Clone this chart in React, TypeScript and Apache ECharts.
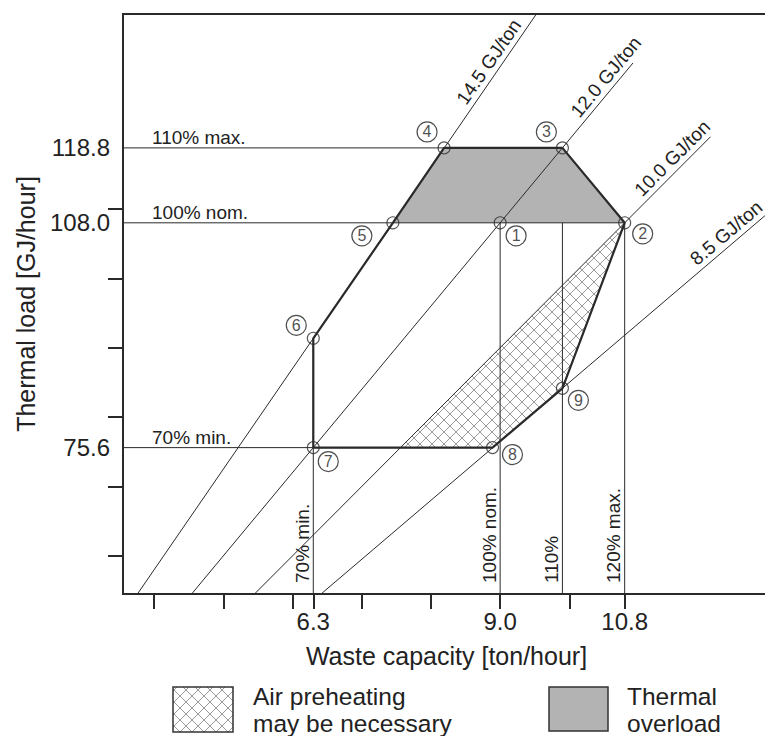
import React, { useEffect, useRef } from 'react';
import * as echarts from 'echarts';

const FONT = '"Liberation Sans", Arial, Helvetica, sans-serif';
const INK = '#222';
const LINE = '#2a2a2a';

// ---------- axis ranges & ticks ----------
const X_MIN = 3.55;
const X_MAX = 12.9;
const Y_MIN = 54.5;
const Y_MAX = 138.1;

const xTickValues = [4, 5, 6, 6.3, 7, 8, 9, 10, 10.8];
const xLabelValues = [6.3, 9.0, 10.8];
const yTickValues = [60, 70, 80, 90, 100, 110];
const yLabelValues = [75.6, 108.0, 118.8];

// ---------- operating points 1..9 ----------
const pointNames = ['1', '2', '3', '4', '5', '6', '7', '8', '9'];
const pointX = [9.0, 10.8, 9.9, 8.19, 7.45, 6.3, 6.3, 8.89, 9.9];
const pointY = [108.0, 108.0, 118.8, 118.8, 108.0, 91.35, 75.6, 75.6, 84.15];

// ---------- lower heating values (lines through origin) ----------
const lhvValues = [14.5, 12.0, 10.0, 8.5];
const lhvNames = ['14.5 GJ/ton', '12.0 GJ/ton', '10.0 GJ/ton', '8.5 GJ/ton'];
const lhvEndX = [9.8, 10.92, 12.04, 13.2];
const lhvLabelX = [8.98, 10.66, 11.61, 12.38];

// ---------- thermal load levels ----------
const loadLevels = [118.8, 108.0, 75.6];
const loadNames = ['110% max.', '100% nom.', '70% min.'];
const loadEndPoint = [3, 2, 8];

// ---------- waste capacity levels ----------
const capacityLevels = [6.3, 9.0, 9.9, 10.8];
const capacityNames = ['70% min.', '100% nom.', '110%', '120% max.'];
const capacityTopY = [91.35, 108.0, 108.0, 108.0];

// ---------- regions ----------
const boundaryPath = [7, 6, 5, 4, 3, 2, 9, 8, 7];
const overloadPath = [5, 4, 3, 2];
const hatchX = [7.56, 10.8, 9.9, 8.89];
const hatchY = [75.6, 108.0, 84.15, 75.6];

const legendLines = [
  ['Air preheating', 'may be necessary'],
  ['Thermal', 'overload'],
];

// ---------- layout ----------
const GRID = { left: 123, top: 14, width: 647, height: 580 };
const markerLabelOffsets = [
  [16, 13], [18, 11], [-16, -16], [-17, -16], [-31, 13], [-17, -13], [15, 14], [20, 7], [16, 12],
];
const HATCH_STEP = 12;
const HATCH_COLOR = '#808080';
const OVERLOAD_FILL = '#b3b3b3';

type P = number[];

function clipLine(p0: P, d: P, poly: P[]): P[] | null {
  const ts: number[] = [];
  for (let i = 0; i < poly.length; i++) {
    const a = poly[i];
    const b = poly[(i + 1) % poly.length];
    const e = [b[0] - a[0], b[1] - a[1]];
    const den = d[0] * e[1] - d[1] * e[0];
    if (Math.abs(den) < 1e-9) continue;
    const w = [a[0] - p0[0], a[1] - p0[1]];
    const t = (w[0] * e[1] - w[1] * e[0]) / den;
    const s = (w[0] * d[1] - w[1] * d[0]) / den;
    if (s >= -1e-9 && s <= 1 + 1e-9) ts.push(t);
  }
  if (ts.length < 2) return null;
  const t0 = Math.min(...ts);
  const t1 = Math.max(...ts);
  if (t1 - t0 < 1e-6) return null;
  return [
    [p0[0] + t0 * d[0], p0[1] + t0 * d[1]],
    [p0[0] + t1 * d[0], p0[1] + t1 * d[1]],
  ];
}

function hatchSegments(poly: P[], h: number): P[][] {
  const out: P[][] = [];
  const sums = poly.map((p) => p[0] + p[1]);
  const diffs = poly.map((p) => p[1] - p[0]);
  for (let c = Math.ceil(Math.min(...sums) / h) * h; c <= Math.max(...sums); c += h) {
    const s = clipLine([c, 0], [1, -1], poly);
    if (s) out.push(s);
  }
  for (let c = Math.ceil(Math.min(...diffs) / h) * h; c <= Math.max(...diffs); c += h) {
    const s = clipLine([0, c], [1, 1], poly);
    if (s) out.push(s);
  }
  return out;
}

function textStyle(text: string, size: number, align: string, vAlign: string) {
  return {
    text,
    fontSize: size,
    fontFamily: FONT,
    fill: INK,
    align,
    verticalAlign: vAlign,
    textAlign: align,
    textVerticalAlign: vAlign,
  };
}

function lineSeries(data: P[], width: number, z = 3) {
  return {
    type: 'line',
    data,
    symbol: 'none',
    showSymbol: false,
    silent: true,
    z,
    lineStyle: { color: LINE, width },
    animation: false,
  };
}

function buildOption() {
  const series: any[] = [];

  // thermal overload region
  series.push({
    type: 'custom',
    silent: true,
    z: 1,
    data: [[pointX[0], pointY[0]]],
    renderItem: (_p: any, api: any) => ({
      type: 'polygon',
      shape: { points: overloadPath.map((n) => api.coord([pointX[n - 1], pointY[n - 1]])) },
      style: { fill: OVERLOAD_FILL, stroke: 'none' },
    }),
  });

  // air preheating (cross-hatched) region
  series.push({
    type: 'custom',
    silent: true,
    z: 1,
    data: [[hatchX[0], hatchY[0]]],
    renderItem: (_p: any, api: any) => {
      const poly = hatchX.map((x, i) => api.coord([x, hatchY[i]]));
      return {
        type: 'group',
        children: hatchSegments(poly, HATCH_STEP).map((s) => ({
          type: 'line',
          shape: { x1: s[0][0], y1: s[0][1], x2: s[1][0], y2: s[1][1] },
          style: { stroke: HATCH_COLOR, lineWidth: 0.8 },
        })),
      };
    },
  });

  // heating value lines
  lhvValues.forEach((v, i) => {
    const x0 = (Y_MIN - 2) / v;
    series.push(lineSeries([[x0, v * x0], [lhvEndX[i], v * lhvEndX[i]]], 1));
  });

  // load level lines
  loadLevels.forEach((l, i) => {
    series.push(lineSeries([[X_MIN, l], [pointX[loadEndPoint[i] - 1], l]], 1));
  });

  // capacity level lines
  capacityLevels.forEach((c, i) => {
    series.push(lineSeries([[c, Y_MIN], [c, capacityTopY[i]]], 1));
  });

  // operating boundary
  series.push(lineSeries(boundaryPath.map((n) => [pointX[n - 1], pointY[n - 1]]), 2.2, 4));

  // operating points with circled numbers
  series.push({
    type: 'scatter',
    silent: true,
    z: 6,
    symbol: 'circle',
    symbolSize: 12,
    itemStyle: { color: 'rgba(0,0,0,0)', borderColor: LINE, borderWidth: 1.1 },
    data: pointX.map((x, i) => ({
      value: [x, pointY[i]],
      label: { offset: markerLabelOffsets[i] },
    })),
    label: {
      show: true,
      position: 'inside',
      formatter: (p: any) => '{c|' + pointNames[p.dataIndex] + '}',
      rich: {
        c: {
          width: 20,
          height: 20,
          lineHeight: 20,
          borderRadius: 10,
          borderColor: '#222',
          borderWidth: 1.2,
          align: 'center',
          verticalAlign: 'middle',
          fontSize: 16,
          fontFamily: FONT,
          color: INK,
        },
      },
    },
  });

  // heating value labels (rotated along lines)
  series.push({
    type: 'custom',
    silent: true,
    z: 7,
    data: lhvValues.map((v, i) => [lhvLabelX[i], v * lhvLabelX[i], i]),
    renderItem: (_p: any, api: any) => {
      const i = api.value(2);
      const lx = api.value(0);
      const v = lhvValues[i];
      const p = api.coord([lx, v * lx]);
      const q = api.coord([lx + 1, v * (lx + 1)]);
      const dx = q[0] - p[0];
      const dy = q[1] - p[1];
      const len = Math.hypot(dx, dy);
      const nx = dy / len;
      const ny = -dx / len;
      const off = 12;
      return {
        type: 'text',
        x: p[0] + nx * off,
        y: p[1] + ny * off,
        rotation: Math.atan2(-dy, dx),
        style: textStyle(lhvNames[i], 19, 'center', 'middle'),
      };
    },
  });

  // load level labels
  series.push({
    type: 'custom',
    silent: true,
    z: 7,
    data: loadLevels.map((l, i) => [X_MIN, l, i]),
    renderItem: (_p: any, api: any) => {
      const p = api.coord([api.value(0), api.value(1)]);
      return {
        type: 'text',
        x: p[0] + 29,
        y: p[1] - 1,
        style: textStyle(loadNames[api.value(2)], 19, 'left', 'bottom'),
      };
    },
  });

  // capacity level labels (vertical)
  series.push({
    type: 'custom',
    silent: true,
    z: 7,
    data: capacityLevels.map((c, i) => [c, Y_MIN, i]),
    renderItem: (_p: any, api: any) => {
      const p = api.coord([api.value(0), api.value(1)]);
      return {
        type: 'text',
        x: p[0] - 11,
        y: p[1] - 11,
        rotation: Math.PI / 2,
        style: textStyle(capacityNames[api.value(2)], 19, 'left', 'middle'),
      };
    },
  });

  // legend (graphic)
  const hatchBox = { x: 173, y: 687, w: 60, h: 45 };
  const grayBox = { x: 549, y: 687, w: 59, h: 44 };
  const boxPoly = [
    [hatchBox.x, hatchBox.y],
    [hatchBox.x + hatchBox.w, hatchBox.y],
    [hatchBox.x + hatchBox.w, hatchBox.y + hatchBox.h],
    [hatchBox.x, hatchBox.y + hatchBox.h],
  ];
  const graphic: any[] = [];
  hatchSegments(boxPoly, HATCH_STEP).forEach((s) => {
    graphic.push({
      type: 'line',
      silent: true,
      shape: { x1: s[0][0], y1: s[0][1], x2: s[1][0], y2: s[1][1] },
      style: { stroke: HATCH_COLOR, lineWidth: 0.8 },
    });
  });
  graphic.push({
    type: 'rect',
    silent: true,
    shape: { x: hatchBox.x, y: hatchBox.y, width: hatchBox.w, height: hatchBox.h },
    style: { fill: 'none', stroke: '#333', lineWidth: 1.5 },
  });
  graphic.push({
    type: 'rect',
    silent: true,
    shape: { x: grayBox.x, y: grayBox.y, width: grayBox.w, height: grayBox.h },
    style: { fill: OVERLOAD_FILL, stroke: '#333', lineWidth: 1.5 },
  });
  const legendTextX = [253, 627];
  legendLines.forEach((lines, k) => {
    lines.forEach((t, j) => {
      graphic.push({
        type: 'text',
        silent: true,
        x: legendTextX[k],
        y: 696.5 + j * 27,
        style: textStyle(t, 24.5, 'left', 'middle'),
      });
    });
  });

  return {
    animation: false,
    backgroundColor: '#fff',
    grid: {
      ...GRID,
      show: true,
      borderColor: LINE,
      borderWidth: 2,
      backgroundColor: 'transparent',
      containLabel: false,
      outerBoundsMode: 'none',
    },
    xAxis: {
      type: 'value',
      min: X_MIN,
      max: X_MAX,
      name: 'Waste capacity [ton/hour]',
      nameLocation: 'middle',
      nameGap: 49,
      nameMoveOverlap: false,
      nameTextStyle: { fontSize: 25, fontFamily: FONT, color: INK },
      axisLine: { show: true, onZero: false, lineStyle: { color: LINE, width: 2 } },
      axisTick: {
        show: true,
        customValues: xTickValues,
        length: 15,
        inside: false,
        lineStyle: { color: LINE, width: 2 },
      },
      axisLabel: {
        show: true,
        customValues: xLabelValues,
        formatter: (v: number) => v.toFixed(1),
        fontSize: 24,
        fontFamily: FONT,
        color: INK,
        margin: 15,
      },
      splitLine: { show: false },
    },
    yAxis: {
      type: 'value',
      min: Y_MIN,
      max: Y_MAX,
      name: 'Thermal load [GJ/hour]',
      nameLocation: 'middle',
      nameGap: 85,
      nameMoveOverlap: false,
      nameTextStyle: { fontSize: 25, fontFamily: FONT, color: INK },
      axisLine: { show: true, onZero: false, lineStyle: { color: LINE, width: 2 } },
      axisTick: {
        show: true,
        customValues: yTickValues,
        length: 15,
        inside: false,
        lineStyle: { color: LINE, width: 2 },
      },
      axisLabel: {
        show: true,
        customValues: yLabelValues,
        formatter: (v: number) => v.toFixed(1),
        fontSize: 24,
        fontFamily: FONT,
        color: INK,
        margin: 13,
      },
      splitLine: { show: false },
    },
    series,
    graphic,
  };
}

export default function App() {
  const ref = useRef<HTMLDivElement>(null);
  useEffect(() => {
    if (!ref.current) return;
    const chart = echarts.init(ref.current, null, { renderer: 'svg' });
    chart.setOption(buildOption() as any);
    return () => chart.dispose();
  }, []);
  return (
    <div
      ref={ref}
      style={{ position: 'fixed', left: 0, top: 0, width: 765, height: 736, background: '#fff' }}
    />
  );
}
